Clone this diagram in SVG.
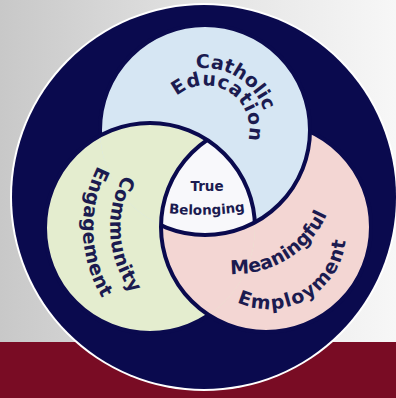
<svg xmlns="http://www.w3.org/2000/svg" width="396" height="398" viewBox="0 0 396 398">
<defs>
<linearGradient id="bg" x1="0" y1="0" x2="1" y2="0">
<stop offset="0" stop-color="#c8c8c8"/>
<stop offset="0.5" stop-color="#e2e2e2"/>
<stop offset="1" stop-color="#f7f7f7"/>
</linearGradient>
<clipPath id="cb"><circle cx="205" cy="130" r="105"/></clipPath>
<clipPath id="cg"><circle cx="150" cy="228" r="105"/></clipPath>
<clipPath id="cp"><circle cx="266" cy="227" r="105"/></clipPath>
<mask id="mb" maskUnits="userSpaceOnUse" x="0" y="0" width="396" height="398">
<rect width="396" height="398" fill="#fff"/>
<circle cx="150" cy="228" r="105" fill="#000"/>
<circle cx="266" cy="227" r="105" fill="#fff"/>
</mask>
<mask id="mg" maskUnits="userSpaceOnUse" x="0" y="0" width="396" height="398">
<rect width="396" height="398" fill="#fff"/>
<circle cx="266" cy="227" r="105" fill="#000"/>
<circle cx="205" cy="130" r="105" fill="#fff"/>
</mask>
<mask id="mp" maskUnits="userSpaceOnUse" x="0" y="0" width="396" height="398">
<rect width="396" height="398" fill="#fff"/>
<circle cx="205" cy="130" r="105" fill="#000"/>
<circle cx="150" cy="228" r="105" fill="#fff"/>
</mask>
<path id="pCath" d="M152.2,95.7 A63,63 0 0 1 259,162.4"/>
<path id="pEdu" d="M168.1,106 A44,44 0 0 1 242.7,152.7"/>
<path id="pComm" d="M202.9,119.8 A109.5,109.5 0 0 0 218.1,337.5"/>
<path id="pEng" d="M203.3,92 A137,137 0 0 0 212.8,364.8"/>
<path id="pMean" d="M153.9,233.2 A101,101 0 0 0 325.3,127.8"/>
<path id="pEmp" d="M205.9,276.2 A77,77 0 0 0 338.8,199.5"/>
<path id="pBel" d="M158,212 Q206,218.5 256,209.5"/>
<style>
.lbl{font-family:"DejaVu Sans","Liberation Sans",sans-serif;font-weight:700;fill:#1b1b50;}
.big{font-size:19px;}
.sm{font-size:13.5px;}
.ring{fill:none;stroke:#0a0a4e;stroke-width:4;}
</style>
</defs>
<rect width="396" height="398" fill="url(#bg)"/>
<rect x="0" y="342" width="396" height="56" fill="#790c24"/>
<circle cx="204" cy="197" r="194" fill="#ffffff"/>
<circle cx="204" cy="197" r="192" fill="#0a0a4e"/>

<g id="meaningful-employment">
<circle cx="266" cy="227" r="105" fill="#f3d6d3"/>
</g>
<g id="community-engagement">
<circle cx="150" cy="228" r="105" fill="#e4edcf"/>
</g>
<g id="catholic-education">
<circle cx="205" cy="130" r="105" fill="#d6e6f3"/>
</g>
<g id="overlaps">
<circle cx="150" cy="228" r="105" fill="#e4edcf" clip-path="url(#cb)"/>
<circle cx="266" cy="227" r="105" fill="#f3d6d3" clip-path="url(#cg)"/>
</g>
<g id="true-belonging">
<g clip-path="url(#cg)"><circle cx="205" cy="130" r="105" fill="#f8f8fb" clip-path="url(#cp)"/></g>
</g>
<g id="outlines">
<circle class="ring" cx="205" cy="130" r="105" mask="url(#mb)"/>
<circle class="ring" cx="150" cy="228" r="105" mask="url(#mg)"/>
<circle class="ring" cx="266" cy="227" r="105" mask="url(#mp)"/>
</g>
<g id="labels">
<text class="lbl big"><textPath href="#pCath" startOffset="50%" text-anchor="middle">Catholic</textPath></text>
<text class="lbl big" letter-spacing="0.6"><textPath href="#pEdu" startOffset="50%" text-anchor="middle">Education</textPath></text>
<text class="lbl big" font-size="20" letter-spacing="0.5"><textPath href="#pComm" startOffset="50%" text-anchor="middle">Community</textPath></text>
<text class="lbl big" letter-spacing="0.4"><textPath href="#pEng" startOffset="50%" text-anchor="middle">Engagement</textPath></text>
<text class="lbl big"><textPath href="#pMean" startOffset="50%" text-anchor="middle">Meaningful</textPath></text>
<text class="lbl big" letter-spacing="1.3"><textPath href="#pEmp" startOffset="50%" text-anchor="middle">Employment</textPath></text>
<text class="lbl sm" x="207" y="191" text-anchor="middle">True</text>
<text class="lbl sm"><textPath href="#pBel" startOffset="50%" text-anchor="middle">Belonging</textPath></text>
</g>
</svg>
